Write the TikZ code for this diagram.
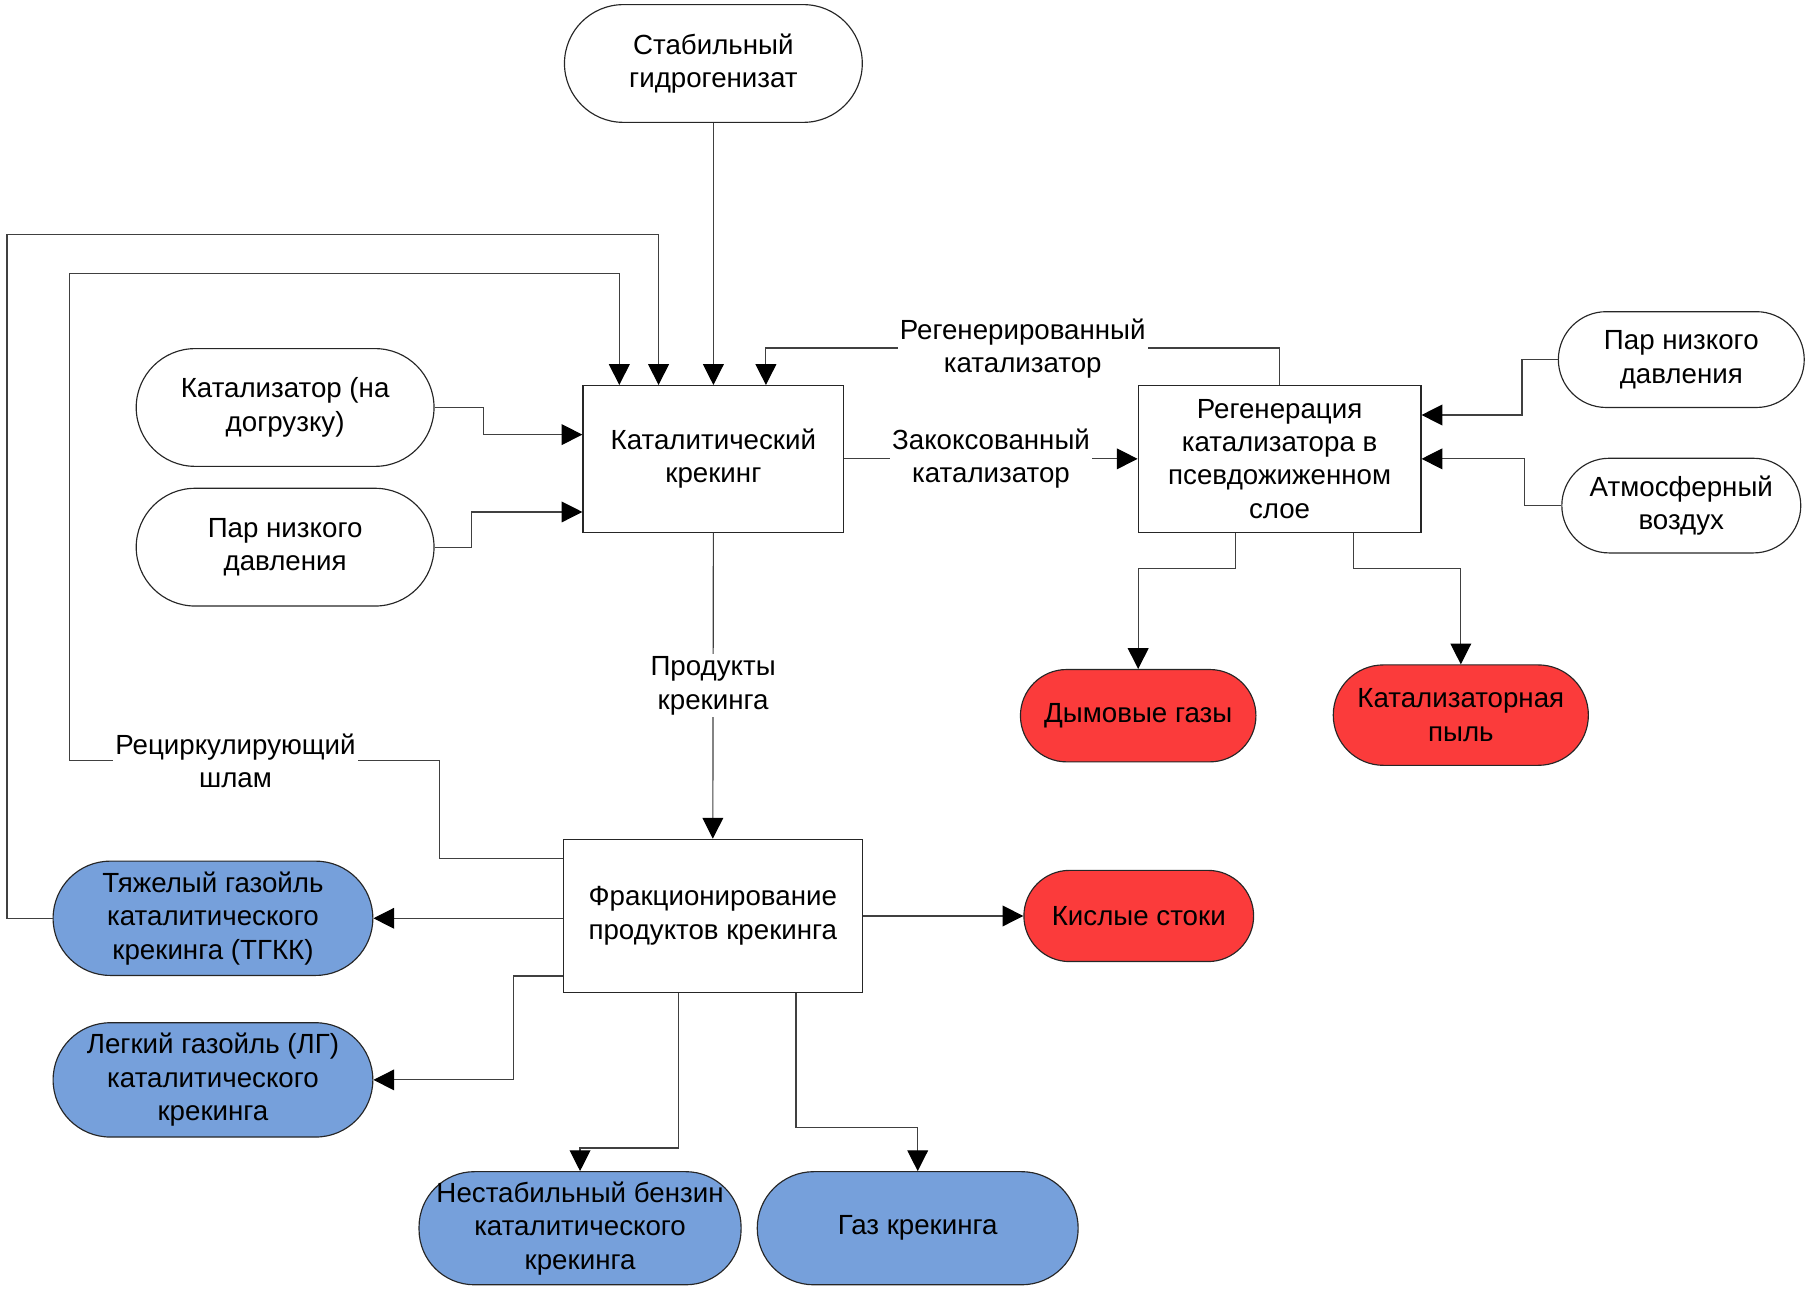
\documentclass[tikz,border=0pt]{standalone}
\usepackage{fontspec}
\setmainfont{Liberation Sans}
\usetikzlibrary{shapes.misc,arrows.meta,calc}
\definecolor{prodblue}{RGB}{118,160,219}
\definecolor{wastered}{RGB}{251,59,59}
\begin{document}
\begin{tikzpicture}[x=0.5pt,y=-0.5pt,
  font=\fontsize{12}{14.5}\selectfont,
  term/.style={rounded rectangle, draw=black!85, line width=0.5pt, align=center, inner sep=0pt},
  proc/.style={rectangle, draw=black!85, line width=0.5pt, align=center, inner sep=0pt, fill=white},
  prod/.style={term, fill=prodblue},
  waste/.style={term, fill=wastered},
  arr/.style={draw=black!75, line width=0.5pt, -{Triangle[length=9pt,width=9pt,black]}},
  lbl/.style={fill=white, align=center, inner sep=1pt}]
\useasboundingbox (0,0) rectangle (1568,1119);

% nodes
\node[term, minimum width=129pt, minimum height=51pt] (stab) at (618,55) {Стабильный\\гидрогенизат};
\node[proc, minimum width=113pt, minimum height=63.5pt] (kk) at (618,397.5) {Каталитический\\крекинг};
\node[term, minimum width=129pt, minimum height=51pt] (kat) at (247,353) {Катализатор (на\\догрузку)};
\node[term, minimum width=129pt, minimum height=51pt] (par1) at (247,474) {Пар низкого\\давления};
\node[proc, minimum width=122.5pt, minimum height=63.5pt] (reg) at (1108.5,397.5) {Регенерация\\катализатора в\\псевдожиженном\\слое};
\node[term, minimum width=106.5pt, minimum height=41.5pt] (par2) at (1456.5,311.5) {Пар низкого\\давления};
\node[term, minimum width=103.5pt, minimum height=41pt] (atm) at (1456.5,438) {Атмосферный\\воздух};
\node[waste, minimum width=102pt, minimum height=40pt] (dym) at (986,620) {Дымовые газы};
\node[waste, minimum width=110.5pt, minimum height=43.5pt] (pyl) at (1265.5,619.5) {Катализаторная\\пыль};
\node[proc, minimum width=129.5pt, minimum height=66.5pt] (fr) at (617.5,793.5) {Фракционирование\\продуктов крекинга};
\node[waste, minimum width=99.5pt, minimum height=39.5pt] (kisl) at (986.5,793.5) {Кислые стоки};
\node[prod, minimum width=138.5pt, minimum height=49.5pt] (tgkk) at (184.5,795.5) {Тяжелый газойль\\каталитического\\крекинга (ТГКК)};
\node[prod, minimum width=138.5pt, minimum height=49.5pt] (lg) at (184.5,935.5) {Легкий газойль (ЛГ)\\каталитического\\крекинга};
\node[rectangle, rounded corners=24pt, draw=black!85, line width=0.5pt, align=center, inner sep=0pt, fill=prodblue, minimum width=139.5pt, minimum height=49pt] (benz) at (502.5,1064) {Нестабильный бензин\\каталитического\\крекинга};
\node[prod, minimum width=139pt, minimum height=49pt] (gaz) at (795,1064) {Газ крекинга};

% connectors into catalytic cracking
\draw[arr] (stab.south) -- (kk.north);
\draw[arr] (tgkk.west) -| (6,203) -| ($(kk.north west)+(66,0)$);
\draw[arr] ($(fr.north west)+(0,17)$) -| (381,659) -| (60,237) -| ($(kk.north west)+(32,0)$);
\node[lbl] (recl) at (204,659) {Рециркулирующий\\шлам};
\draw[arr] (reg.north) -- ++(0,-32) -| ($(kk.north west)+(159,0)$);
\node[lbl] (regl) at (886,302) {Регенерированный\\катализатор};
\draw[arr] (kat.east) -- ++(42,0) |- ($(kk.west)+(0,-21)$);
\draw[arr] (par1.east) -- ++(32,0) |- ($(kk.west)+(0,46)$);

% catalyst to regeneration
\draw[arr] (kk.east) -- node[lbl]{Закоксованный\\катализатор} (reg.west);
\draw[arr] (par2.west) -- ++(-31,0) |- ($(reg.east)+(0,-38)$);
\draw[arr] (atm.west) -- ++(-32,0) |- (reg.east);
\draw[arr] ($(reg.south west)+(85,0)$) -- ++(0,31) -| (dym.north);
\draw[arr] ($(reg.south west)+(187,0)$) -- ++(0,31) -| (pyl.north);

% products
\draw[arr] (kk.south) -- node[lbl]{Продукты\\крекинга} (fr.north);
\draw[arr] (fr.west |- tgkk.east) -- (tgkk.east);
\draw[arr] ($(fr.south west)+(0,-15)$) -- ++(-43,0) |- (lg.east);
\draw[arr] ($(fr.south west)+(100,0)$) -- ++(0,134) -| (benz.north);
\draw[arr] ($(fr.south west)+(202,0)$) -- ++(0,116) -| (gaz.north);
\draw[arr] (fr.east) -- (kisl.west);
\end{tikzpicture}
\end{document}
